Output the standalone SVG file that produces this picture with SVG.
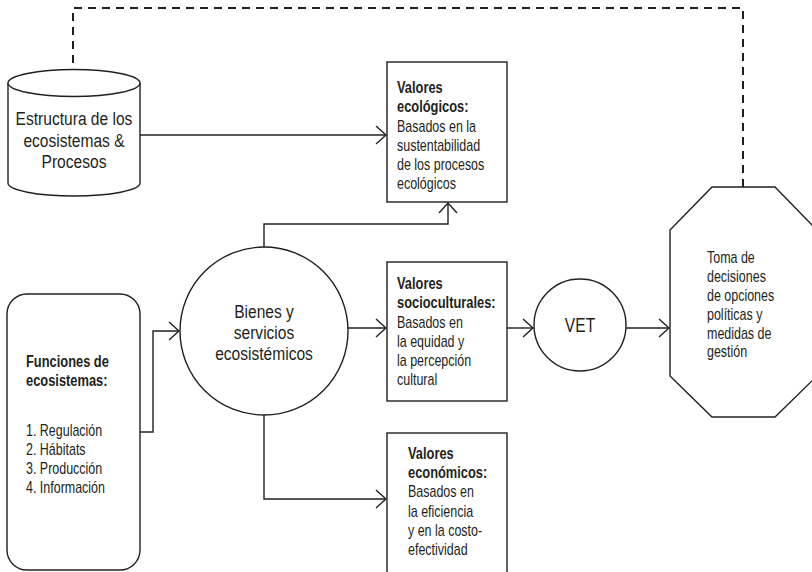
<svg xmlns="http://www.w3.org/2000/svg" width="812" height="572" viewBox="0 0 812 572">
<defs>
<style>
.s{fill:#fff;stroke:#231f20;stroke-width:1.4}
.c{fill:none;stroke:#231f20;stroke-width:1.4}
.d{fill:none;stroke:#231f20;stroke-width:2;stroke-dasharray:8 6}
text{font-family:"Liberation Sans",Arial,sans-serif;fill:#231f20}
.t{font-size:16px}
.b{font-weight:bold;font-size:16.5px}
.l{font-size:19px;text-anchor:middle}
</style>
<marker id="ah" viewBox="0 0 12 20" refX="11" refY="10" markerWidth="12" markerHeight="20" markerUnits="userSpaceOnUse" orient="auto">
<path d="M1,1 L11,10 L1,19" fill="none" stroke="#231f20" stroke-width="1.4"/>
</marker>
</defs>
<g id="connectors">
<path class="d" d="M743,187 L743,8 L73,8 L73,79"/>
<path class="c" d="M66,72 L73,80 L80,72"/>
<path class="c" d="M140,135 L386,135" marker-end="url(#ah)"/>
<path class="c" d="M264,247 L264,224 L448,224 L448,203" marker-end="url(#ah)"/>
<path class="c" d="M140,432 L153,432 L153,331 L179,331" marker-end="url(#ah)"/>
<path class="c" d="M347,328 L386,328" marker-end="url(#ah)"/>
<path class="c" d="M264,415 L264,499 L386,499" marker-end="url(#ah)"/>
<path class="c" d="M507,328 L533,328" marker-end="url(#ah)"/>
<path class="c" d="M626,328 L669,328" marker-end="url(#ah)"/>
</g>
<g id="estructura">
<path class="s" d="M8,83 L8,183 A66,13 0 0 0 140,183 L140,83"/>
<ellipse class="s" cx="74" cy="83" rx="66" ry="13.5"/>
<text class="l" transform="translate(74,0) scale(0.82,1)"><tspan x="0" y="125">Estructura de los</tspan><tspan x="0" y="147">ecosistemas &amp;</tspan><tspan x="0" y="168">Procesos</tspan></text>
</g>
<g id="funciones">
<rect class="s" x="7" y="294" width="133" height="276" rx="20"/>
<text class="t" transform="translate(26,0) scale(0.78,1)"><tspan class="b" x="0" y="367">Funciones de</tspan><tspan class="b" x="0" y="386">ecosistemas:</tspan><tspan x="0" y="436">1. Regulación</tspan><tspan x="0" y="455">2. Hábitats</tspan><tspan x="0" y="474">3. Producción</tspan><tspan x="0" y="493">4. Información</tspan></text>
</g>
<g id="bienes">
<circle class="s" cx="264" cy="331" r="84"/>
<text class="l" transform="translate(264,0) scale(0.82,1)"><tspan x="0" y="318">Bienes y</tspan><tspan x="0" y="339">servicios</tspan><tspan x="0" y="360">ecosistémicos</tspan></text>
</g>
<g id="ecologicos">
<rect class="s" x="387" y="62" width="120" height="140"/>
<text class="t" transform="translate(397,0) scale(0.78,1)"><tspan class="b" x="0" y="93">Valores</tspan><tspan class="b" x="0" y="112">ecológicos:</tspan><tspan x="0" y="132">Basados en la</tspan><tspan x="0" y="151">sustentabilidad</tspan><tspan x="0" y="170">de los procesos</tspan><tspan x="0" y="189">ecológicos</tspan></text>
</g>
<g id="socioculturales">
<rect class="s" x="387" y="262" width="120" height="139"/>
<text class="t" transform="translate(397,0) scale(0.78,1)"><tspan class="b" x="0" y="289">Valores</tspan><tspan class="b" x="0" y="308">socioculturales:</tspan><tspan x="0" y="328">Basados en</tspan><tspan x="0" y="347">la equidad y</tspan><tspan x="0" y="366">la percepción</tspan><tspan x="0" y="385">cultural</tspan></text>
</g>
<g id="economicos">
<rect class="s" x="387" y="433" width="120" height="150"/>
<text class="t" transform="translate(408,0) scale(0.78,1)"><tspan class="b" x="0" y="459">Valores</tspan><tspan class="b" x="0" y="478">económicos:</tspan><tspan x="0" y="497">Basados en</tspan><tspan x="0" y="517">la eficiencia</tspan><tspan x="0" y="536">y en la costo-</tspan><tspan x="0" y="555">efectividad</tspan></text>
</g>
<g id="vet">
<circle class="s" cx="580" cy="325" r="46"/>
<text transform="translate(580,0) scale(0.8,1)" x="0" y="332" style="font-size:19.5px;text-anchor:middle">VET</text>
</g>
<g id="toma">
<polygon class="s" points="712,187 775,187 817,230 817,376 775,417 712,417 670,376 670,230"/>
<text class="t" transform="translate(707,0) scale(0.78,1)"><tspan x="0" y="263">Toma de</tspan><tspan x="0" y="282">decisiones</tspan><tspan x="0" y="301">de opciones</tspan><tspan x="0" y="320">políticas y</tspan><tspan x="0" y="339">medidas de</tspan><tspan x="0" y="357">gestión</tspan></text>
</g>
</svg>
